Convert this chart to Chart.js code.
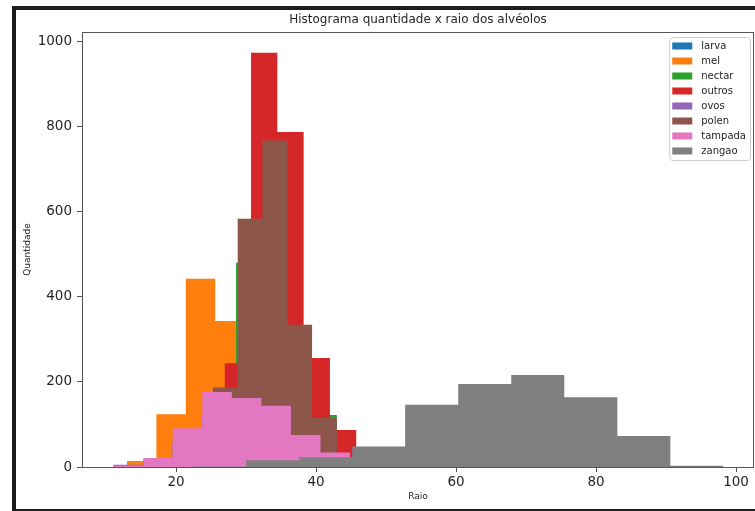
<!DOCTYPE html>
<html>
<head>
<meta charset="utf-8">
<title>Histograma quantidade x raio dos alvéolos</title>
<script src="https://cdn.jsdelivr.net/npm/chart.js@4.4.0/dist/chart.umd.min.js"></script>
<style>
  html, body { margin: 0; padding: 0; background: #fff; }
  #wrap { position: relative; width: 755px; height: 511px; overflow: hidden; }
  #wrap canvas { position: absolute; left: 0; top: 0; }
  /* the dark frame around the screenshot */
  #frame { position: absolute; left: 12px; top: 6px; right: 0; bottom: 0;
           border-left: 4px solid #1c1c1c; border-top: 4px solid #1c1c1c; border-bottom: 2px solid #1c1c1c;
           pointer-events: none; }
</style>
</head>
<body>
<div id="wrap">
  <canvas id="myChart" width="755" height="511"></canvas>
  <div id="frame"></div>
</div>
<script>
// classes of cells, legend order
const classes = ['larva', 'mel', 'nectar', 'outros', 'ovos', 'polen', 'tampada', 'zangao'];
const colors = ['#1f77b4', '#ff7f0e', '#2ca02c', '#d62728', '#9467bd', '#8c564b', '#e377c2', '#7f7f7f'];

// histogram of each class: [min raio, max raio] and counts of the 10 bins
const larvaRange = [15.3, 44.9];
const larvaCounts = [2, 10, 40, 80, 90, 70, 40, 15, 4, 1];
const melRange = [13.0, 55.0];
const melCounts = [14, 124, 442, 343, 250, 150, 60, 20, 6, 2];
const nectarRange = [21.37, 57.37];
const nectarCounts = [20, 100, 480, 700, 300, 122, 30, 5, 1, 1];
const outrosRange = [15.69, 53.26];
const outrosCounts = [2, 10, 50, 244, 973, 787, 256, 87, 15, 3];
const ovosRange = [11.03, 53.3];
const ovosCounts = [5, 15, 60, 120, 110, 100, 50, 20, 3, 1];
const polenRange = [14.64, 50.07];
const polenCounts = [1, 5, 40, 187, 583, 767, 334, 116, 20, 2];
const tampadaRange = [11.1, 53.3];
const tampadaCounts = [3, 21, 91, 176, 162, 144, 75, 34, 5, 1];
const zangaoRange = [22.43, 98.2];
const zangaoCounts = [1, 16, 23, 48, 146, 195, 216, 164, 73, 3];

// axis ticks
const xTicks = [20, 40, 60, 80, 100];
const yTicks = [0, 200, 400, 600, 800, 1000];

const ranges = [larvaRange, melRange, nectarRange, outrosRange, ovosRange, polenRange, tampadaRange, zangaoRange];
const counts = [larvaCounts, melCounts, nectarCounts, outrosCounts, ovosCounts, polenCounts, tampadaCounts, zangaoCounts];

const FONT = '"DejaVu Sans", sans-serif';
const chartTitle = 'Histograma quantidade x raio dos alvéolos';

// bin edges -> step points (value holds from its edge to the next one)
function histPoints(range, c) {
    var w = (range[1] - range[0]) / c.length;
    var pts = c.map(function (v, i) { return { x: range[0] + i * w, y: v }; });
    pts.push({ x: range[1], y: 0 });
    return pts;
}

var datasets = classes.map(function (name, i) {
    return {
        label: name,
        data: histPoints(ranges[i], counts[i]),
        backgroundColor: colors[i],
        borderColor: colors[i],
        borderWidth: 0,
        fill: 'origin',
        stepped: true,
        pointRadius: 0,
        pointHitRadius: 0,
        order: classes.length - 1 - i // later classes drawn on top, like plt.hist
    };
});

// frame, title over the axes and the legend box inside the plot
var overlay = {
    id: 'overlay',
    afterDatasetsDraw: function (chart) {
        var ctx = chart.ctx, a = chart.chartArea;
        ctx.save();
        ctx.strokeStyle = '#555';
        ctx.lineWidth = 1;
        ctx.strokeRect(a.left + 0.5, a.top + 0.5, a.right - a.left - 1, a.bottom - a.top);
        ctx.restore();
    },
    afterDraw: function (chart) {
        var ctx = chart.ctx, a = chart.chartArea;
        ctx.save();
        ctx.fillStyle = '#262626';
        ctx.font = '12px ' + FONT;
        ctx.textAlign = 'center';
        ctx.textBaseline = 'middle';
        ctx.fillText(chartTitle, (a.left + a.right) / 2, 20);

        ctx.font = '10px ' + FONT;
        var maxW = Math.max.apply(null, classes.map(function (c) { return ctx.measureText(c).width; }));
        var boxW = 3 + 20 + 9 + maxW + 4;
        var boxH = 9 + (classes.length - 1) * 15 + 9;
        var bx = a.right - 4 - boxW, by = a.top + 5;
        ctx.beginPath();
        ctx.roundRect(bx + 0.5, by + 0.5, boxW, boxH, 3);
        ctx.fillStyle = 'rgba(255,255,255,0.8)';
        ctx.fill();
        ctx.strokeStyle = '#cccccc';
        ctx.stroke();
        ctx.textAlign = 'left';
        classes.forEach(function (name, i) {
            var cy = by + 9 + i * 15;
            ctx.fillStyle = colors[i];
            ctx.fillRect(bx + 3, cy - 3.5, 20, 7);
            ctx.fillStyle = '#262626';
            ctx.fillText(name, bx + 32, cy);
        });
        ctx.restore();
    }
};

var ctx = document.getElementById('myChart').getContext('2d');
var myChart = new Chart(ctx, {
    type: 'line',
    data: { datasets: datasets },
    options: {
        responsive: false,
        animation: false,
        layout: { padding: { top: 32, right: 1, left: 0, bottom: 0 } },
        plugins: {
            legend: { display: false },
            title: { display: false },
            tooltip: { enabled: false }
        },
        scales: {
            x: {
                type: 'linear',
                min: 6.57,
                max: 102.57,
                afterBuildTicks: function (s) { s.ticks = xTicks.map(function (v) { return { value: v }; }); },
                afterFit: function (s) { s.height = 44; },
                border: { display: false },
                grid: { drawOnChartArea: false, drawTicks: true, tickLength: 5, tickColor: '#555' },
                ticks: { color: '#262626', font: { family: FONT, size: 13.5 }, padding: 2, maxRotation: 0,
                         callback: function (v) { return String(v); } },
                title: { display: true, text: 'Raio', color: '#262626', font: { family: FONT, size: 9 },
                         padding: { top: 0, bottom: 8.6 } }
            },
            y: {
                min: 0,
                max: 1022,
                afterBuildTicks: function (s) { s.ticks = yTicks.map(function (v) { return { value: v }; }); },
                afterFit: function (s) { s.width = 82; },
                border: { display: false },
                grid: { drawOnChartArea: false, drawTicks: true, tickLength: 5, tickColor: '#555' },
                ticks: { color: '#262626', font: { family: FONT, size: 13.5 }, padding: 5,
                         callback: function (v) { return String(v); } },
                title: { display: true, text: 'Quantidade', color: '#262626', font: { family: FONT, size: 9 },
                         padding: { top: 22, bottom: 0 } }
            }
        }
    },
    plugins: [overlay]
});
</script>
</body>
</html>
